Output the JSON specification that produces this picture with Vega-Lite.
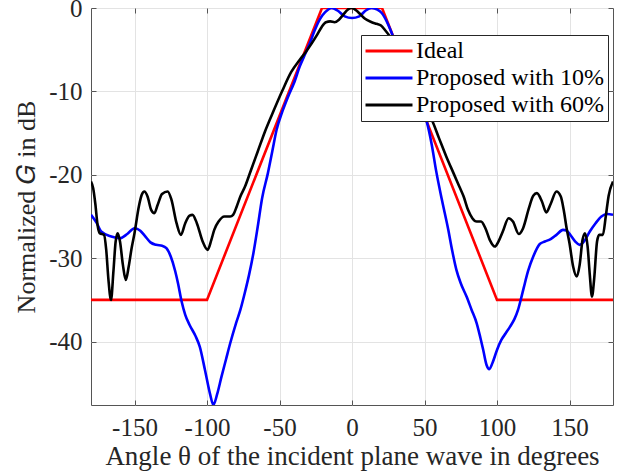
{
  "$schema": "https://vega.github.io/schema/vega-lite/v6.json",
  "autosize": {"type": "none"},
  "padding": {"left": 91, "top": 8, "right": 13, "bottom": 69},
  "width": 522,
  "height": 397,
  "background": "white",
  "config": {
    "font": "Liberation Serif",
    "view": {"stroke": "#555555", "strokeWidth": 1},
    "axis": {"labelFont": "Liberation Serif", "titleFont": "Liberation Serif", "labelColor": "#262626", "titleColor": "#262626", "domainColor": "#555555", "tickColor": "#555555", "gridColor": "#e3e3e3", "gridOpacity": 1, "labelFontSize": 25, "titleFontSize": 26, "titleFontWeight": "normal"},
    "legend": {"labelFont": "Liberation Serif", "labelFontSize": 24, "labelColor": "#000000", "labelLimit": 0}
  },
  "datasets": {
    "curves": [
      {"series": "Ideal", "theta": -180, "G": -35},
      {"series": "Ideal", "theta": -100, "G": -35},
      {"series": "Ideal", "theta": -20.7, "G": 0},
      {"series": "Ideal", "theta": 20.7, "G": 0},
      {"series": "Ideal", "theta": 100, "G": -35},
      {"series": "Ideal", "theta": 180, "G": -35},

      {"series": "Proposed with 10%", "theta": -180, "G": -24.8},
      {"series": "Proposed with 10%", "theta": -176, "G": -25.8},
      {"series": "Proposed with 10%", "theta": -173, "G": -26.8},
      {"series": "Proposed with 10%", "theta": -166, "G": -27.4},
      {"series": "Proposed with 10%", "theta": -160, "G": -27.6},
      {"series": "Proposed with 10%", "theta": -155, "G": -27.1},
      {"series": "Proposed with 10%", "theta": -150, "G": -26.4},
      {"series": "Proposed with 10%", "theta": -146, "G": -26.7},
      {"series": "Proposed with 10%", "theta": -143, "G": -27.3},
      {"series": "Proposed with 10%", "theta": -139, "G": -28.1},
      {"series": "Proposed with 10%", "theta": -135, "G": -28.4},
      {"series": "Proposed with 10%", "theta": -131, "G": -28.5},
      {"series": "Proposed with 10%", "theta": -128, "G": -28.8},
      {"series": "Proposed with 10%", "theta": -125, "G": -29.8},
      {"series": "Proposed with 10%", "theta": -122, "G": -31.5},
      {"series": "Proposed with 10%", "theta": -120, "G": -33.0},
      {"series": "Proposed with 10%", "theta": -117.5, "G": -35.2},
      {"series": "Proposed with 10%", "theta": -115, "G": -36.8},
      {"series": "Proposed with 10%", "theta": -112, "G": -38.0},
      {"series": "Proposed with 10%", "theta": -108, "G": -39.3},
      {"series": "Proposed with 10%", "theta": -105, "G": -40.6},
      {"series": "Proposed with 10%", "theta": -101.4, "G": -43.4},
      {"series": "Proposed with 10%", "theta": -98, "G": -46.2},
      {"series": "Proposed with 10%", "theta": -95.6, "G": -47.6},
      {"series": "Proposed with 10%", "theta": -93, "G": -46.3},
      {"series": "Proposed with 10%", "theta": -90, "G": -44.2},
      {"series": "Proposed with 10%", "theta": -87, "G": -42.2},
      {"series": "Proposed with 10%", "theta": -84, "G": -40.2},
      {"series": "Proposed with 10%", "theta": -80, "G": -37.8},
      {"series": "Proposed with 10%", "theta": -77, "G": -36.2},
      {"series": "Proposed with 10%", "theta": -74, "G": -34.2},
      {"series": "Proposed with 10%", "theta": -71, "G": -32.0},
      {"series": "Proposed with 10%", "theta": -68, "G": -29.4},
      {"series": "Proposed with 10%", "theta": -65, "G": -26.2},
      {"series": "Proposed with 10%", "theta": -62, "G": -22.8},
      {"series": "Proposed with 10%", "theta": -58, "G": -19.8},
      {"series": "Proposed with 10%", "theta": -55, "G": -17.2},
      {"series": "Proposed with 10%", "theta": -52, "G": -14.6},
      {"series": "Proposed with 10%", "theta": -48, "G": -12.4},
      {"series": "Proposed with 10%", "theta": -44, "G": -10.6},
      {"series": "Proposed with 10%", "theta": -40, "G": -9.0},
      {"series": "Proposed with 10%", "theta": -36, "G": -7.0},
      {"series": "Proposed with 10%", "theta": -32, "G": -5.4},
      {"series": "Proposed with 10%", "theta": -29, "G": -4.2},
      {"series": "Proposed with 10%", "theta": -26, "G": -2.8},
      {"series": "Proposed with 10%", "theta": -22, "G": -1.3},
      {"series": "Proposed with 10%", "theta": -18.5, "G": -0.5},
      {"series": "Proposed with 10%", "theta": -14, "G": 0},
      {"series": "Proposed with 10%", "theta": -10, "G": -0.3},
      {"series": "Proposed with 10%", "theta": -5, "G": -1.0},
      {"series": "Proposed with 10%", "theta": 0, "G": -1.2},
      {"series": "Proposed with 10%", "theta": 5, "G": -1.0},
      {"series": "Proposed with 10%", "theta": 9.5, "G": -0.3},
      {"series": "Proposed with 10%", "theta": 13.6, "G": 0},
      {"series": "Proposed with 10%", "theta": 17.5, "G": -0.2},
      {"series": "Proposed with 10%", "theta": 20.5, "G": -0.6},
      {"series": "Proposed with 10%", "theta": 25, "G": -2.0},
      {"series": "Proposed with 10%", "theta": 27.4, "G": -3.0},
      {"series": "Proposed with 10%", "theta": 32, "G": -5.5},
      {"series": "Proposed with 10%", "theta": 36, "G": -7.5},
      {"series": "Proposed with 10%", "theta": 40, "G": -9.2},
      {"series": "Proposed with 10%", "theta": 44, "G": -10.6},
      {"series": "Proposed with 10%", "theta": 48, "G": -12.0},
      {"series": "Proposed with 10%", "theta": 51.5, "G": -13.6},
      {"series": "Proposed with 10%", "theta": 55, "G": -16.4},
      {"series": "Proposed with 10%", "theta": 58, "G": -19.5},
      {"series": "Proposed with 10%", "theta": 62, "G": -23.0},
      {"series": "Proposed with 10%", "theta": 66.4, "G": -26.6},
      {"series": "Proposed with 10%", "theta": 69, "G": -29.0},
      {"series": "Proposed with 10%", "theta": 72, "G": -31.4},
      {"series": "Proposed with 10%", "theta": 75, "G": -33.0},
      {"series": "Proposed with 10%", "theta": 79, "G": -34.6},
      {"series": "Proposed with 10%", "theta": 82.5, "G": -36.2},
      {"series": "Proposed with 10%", "theta": 86, "G": -37.8},
      {"series": "Proposed with 10%", "theta": 88.5, "G": -39.5},
      {"series": "Proposed with 10%", "theta": 90.5, "G": -41.0},
      {"series": "Proposed with 10%", "theta": 92.8, "G": -42.8},
      {"series": "Proposed with 10%", "theta": 94.7, "G": -43.3},
      {"series": "Proposed with 10%", "theta": 97, "G": -42.5},
      {"series": "Proposed with 10%", "theta": 100, "G": -41.0},
      {"series": "Proposed with 10%", "theta": 103, "G": -39.8},
      {"series": "Proposed with 10%", "theta": 106, "G": -39.0},
      {"series": "Proposed with 10%", "theta": 109, "G": -38.2},
      {"series": "Proposed with 10%", "theta": 112, "G": -37.3},
      {"series": "Proposed with 10%", "theta": 114.5, "G": -36.2},
      {"series": "Proposed with 10%", "theta": 116.5, "G": -34.9},
      {"series": "Proposed with 10%", "theta": 118.5, "G": -33.5},
      {"series": "Proposed with 10%", "theta": 121.5, "G": -31.5},
      {"series": "Proposed with 10%", "theta": 125, "G": -29.8},
      {"series": "Proposed with 10%", "theta": 129.5, "G": -28.3},
      {"series": "Proposed with 10%", "theta": 133, "G": -28.0},
      {"series": "Proposed with 10%", "theta": 137, "G": -27.7},
      {"series": "Proposed with 10%", "theta": 141, "G": -27.2},
      {"series": "Proposed with 10%", "theta": 145.5, "G": -26.6},
      {"series": "Proposed with 10%", "theta": 148, "G": -26.7},
      {"series": "Proposed with 10%", "theta": 151, "G": -27.3},
      {"series": "Proposed with 10%", "theta": 154, "G": -28.0},
      {"series": "Proposed with 10%", "theta": 157, "G": -28.4},
      {"series": "Proposed with 10%", "theta": 160, "G": -28.0},
      {"series": "Proposed with 10%", "theta": 164, "G": -26.8},
      {"series": "Proposed with 10%", "theta": 168, "G": -25.8},
      {"series": "Proposed with 10%", "theta": 172, "G": -25.0},
      {"series": "Proposed with 10%", "theta": 176, "G": -24.7},
      {"series": "Proposed with 10%", "theta": 180, "G": -24.8},

      {"series": "Proposed with 60%", "theta": -180, "G": -20.8},
      {"series": "Proposed with 60%", "theta": -178.5, "G": -21.6},
      {"series": "Proposed with 60%", "theta": -177, "G": -23.5},
      {"series": "Proposed with 60%", "theta": -175.5, "G": -26.0},
      {"series": "Proposed with 60%", "theta": -174, "G": -27.0},
      {"series": "Proposed with 60%", "theta": -171, "G": -27.2},
      {"series": "Proposed with 60%", "theta": -169.5, "G": -29.0},
      {"series": "Proposed with 60%", "theta": -168, "G": -32.5},
      {"series": "Proposed with 60%", "theta": -166.2, "G": -35.0},
      {"series": "Proposed with 60%", "theta": -164.5, "G": -31.5},
      {"series": "Proposed with 60%", "theta": -163, "G": -28.0},
      {"series": "Proposed with 60%", "theta": -161.6, "G": -27.0},
      {"series": "Proposed with 60%", "theta": -160, "G": -28.0},
      {"series": "Proposed with 60%", "theta": -158, "G": -30.8},
      {"series": "Proposed with 60%", "theta": -156, "G": -32.6},
      {"series": "Proposed with 60%", "theta": -154, "G": -31.0},
      {"series": "Proposed with 60%", "theta": -152, "G": -28.8},
      {"series": "Proposed with 60%", "theta": -150, "G": -27.0},
      {"series": "Proposed with 60%", "theta": -147, "G": -23.8},
      {"series": "Proposed with 60%", "theta": -145, "G": -22.4},
      {"series": "Proposed with 60%", "theta": -143.2, "G": -22.0},
      {"series": "Proposed with 60%", "theta": -141, "G": -22.6},
      {"series": "Proposed with 60%", "theta": -138.5, "G": -24.2},
      {"series": "Proposed with 60%", "theta": -136.3, "G": -24.6},
      {"series": "Proposed with 60%", "theta": -134, "G": -23.6},
      {"series": "Proposed with 60%", "theta": -131, "G": -22.3},
      {"series": "Proposed with 60%", "theta": -127.1, "G": -22.0},
      {"series": "Proposed with 60%", "theta": -124.5, "G": -23.0},
      {"series": "Proposed with 60%", "theta": -121, "G": -25.8},
      {"series": "Proposed with 60%", "theta": -118, "G": -27.2},
      {"series": "Proposed with 60%", "theta": -115, "G": -25.8},
      {"series": "Proposed with 60%", "theta": -112, "G": -24.9},
      {"series": "Proposed with 60%", "theta": -110, "G": -24.8},
      {"series": "Proposed with 60%", "theta": -107, "G": -25.8},
      {"series": "Proposed with 60%", "theta": -103, "G": -28.0},
      {"series": "Proposed with 60%", "theta": -99.6, "G": -29.0},
      {"series": "Proposed with 60%", "theta": -97, "G": -27.8},
      {"series": "Proposed with 60%", "theta": -95, "G": -26.6},
      {"series": "Proposed with 60%", "theta": -92, "G": -25.6},
      {"series": "Proposed with 60%", "theta": -88, "G": -25.0},
      {"series": "Proposed with 60%", "theta": -84, "G": -25.0},
      {"series": "Proposed with 60%", "theta": -82, "G": -24.8},
      {"series": "Proposed with 60%", "theta": -79.5, "G": -23.8},
      {"series": "Proposed with 60%", "theta": -77, "G": -22.6},
      {"series": "Proposed with 60%", "theta": -74, "G": -21.5},
      {"series": "Proposed with 60%", "theta": -70, "G": -19.6},
      {"series": "Proposed with 60%", "theta": -65, "G": -17.2},
      {"series": "Proposed with 60%", "theta": -60, "G": -14.8},
      {"series": "Proposed with 60%", "theta": -54, "G": -12.3},
      {"series": "Proposed with 60%", "theta": -48, "G": -9.9},
      {"series": "Proposed with 60%", "theta": -42, "G": -7.7},
      {"series": "Proposed with 60%", "theta": -36, "G": -6.2},
      {"series": "Proposed with 60%", "theta": -32, "G": -5.3},
      {"series": "Proposed with 60%", "theta": -28, "G": -4.3},
      {"series": "Proposed with 60%", "theta": -24, "G": -3.2},
      {"series": "Proposed with 60%", "theta": -21, "G": -2.3},
      {"series": "Proposed with 60%", "theta": -18, "G": -1.7},
      {"series": "Proposed with 60%", "theta": -15, "G": -1.6},
      {"series": "Proposed with 60%", "theta": -12, "G": -1.7},
      {"series": "Proposed with 60%", "theta": -9, "G": -1.4},
      {"series": "Proposed with 60%", "theta": -6, "G": -0.8},
      {"series": "Proposed with 60%", "theta": -3, "G": -0.2},
      {"series": "Proposed with 60%", "theta": 0, "G": 0},
      {"series": "Proposed with 60%", "theta": 3, "G": -0.3},
      {"series": "Proposed with 60%", "theta": 6, "G": -0.8},
      {"series": "Proposed with 60%", "theta": 9, "G": -1.3},
      {"series": "Proposed with 60%", "theta": 13.6, "G": -1.7},
      {"series": "Proposed with 60%", "theta": 17, "G": -1.9},
      {"series": "Proposed with 60%", "theta": 20, "G": -2.1},
      {"series": "Proposed with 60%", "theta": 23, "G": -2.7},
      {"series": "Proposed with 60%", "theta": 26, "G": -3.4},
      {"series": "Proposed with 60%", "theta": 30, "G": -5.0},
      {"series": "Proposed with 60%", "theta": 35, "G": -7.0},
      {"series": "Proposed with 60%", "theta": 40, "G": -8.8},
      {"series": "Proposed with 60%", "theta": 45, "G": -10.4},
      {"series": "Proposed with 60%", "theta": 50, "G": -12.0},
      {"series": "Proposed with 60%", "theta": 55, "G": -13.4},
      {"series": "Proposed with 60%", "theta": 60, "G": -15.6},
      {"series": "Proposed with 60%", "theta": 65, "G": -17.8},
      {"series": "Proposed with 60%", "theta": 70, "G": -19.8},
      {"series": "Proposed with 60%", "theta": 74, "G": -21.4},
      {"series": "Proposed with 60%", "theta": 77, "G": -22.6},
      {"series": "Proposed with 60%", "theta": 80, "G": -24.2},
      {"series": "Proposed with 60%", "theta": 83, "G": -25.2},
      {"series": "Proposed with 60%", "theta": 86, "G": -25.6},
      {"series": "Proposed with 60%", "theta": 89, "G": -25.6},
      {"series": "Proposed with 60%", "theta": 92, "G": -26.4},
      {"series": "Proposed with 60%", "theta": 95, "G": -27.8},
      {"series": "Proposed with 60%", "theta": 98.5, "G": -28.6},
      {"series": "Proposed with 60%", "theta": 101, "G": -28.0},
      {"series": "Proposed with 60%", "theta": 104, "G": -26.8},
      {"series": "Proposed with 60%", "theta": 108, "G": -25.2},
      {"series": "Proposed with 60%", "theta": 111, "G": -25.6},
      {"series": "Proposed with 60%", "theta": 115, "G": -27.1},
      {"series": "Proposed with 60%", "theta": 118, "G": -26.4},
      {"series": "Proposed with 60%", "theta": 122, "G": -24.0},
      {"series": "Proposed with 60%", "theta": 125, "G": -22.5},
      {"series": "Proposed with 60%", "theta": 127.5, "G": -22.2},
      {"series": "Proposed with 60%", "theta": 131, "G": -23.2},
      {"series": "Proposed with 60%", "theta": 134, "G": -24.5},
      {"series": "Proposed with 60%", "theta": 137, "G": -23.5},
      {"series": "Proposed with 60%", "theta": 141, "G": -22.0},
      {"series": "Proposed with 60%", "theta": 144, "G": -22.6},
      {"series": "Proposed with 60%", "theta": 146, "G": -24.2},
      {"series": "Proposed with 60%", "theta": 148, "G": -26.4},
      {"series": "Proposed with 60%", "theta": 150, "G": -28.2},
      {"series": "Proposed with 60%", "theta": 152.5, "G": -31.0},
      {"series": "Proposed with 60%", "theta": 155, "G": -32.2},
      {"series": "Proposed with 60%", "theta": 157, "G": -30.8},
      {"series": "Proposed with 60%", "theta": 159, "G": -27.8},
      {"series": "Proposed with 60%", "theta": 160.7, "G": -27.0},
      {"series": "Proposed with 60%", "theta": 162.5, "G": -28.6},
      {"series": "Proposed with 60%", "theta": 164, "G": -32.0},
      {"series": "Proposed with 60%", "theta": 165.5, "G": -34.6},
      {"series": "Proposed with 60%", "theta": 167, "G": -32.5},
      {"series": "Proposed with 60%", "theta": 169, "G": -28.0},
      {"series": "Proposed with 60%", "theta": 170.5, "G": -27.2},
      {"series": "Proposed with 60%", "theta": 173, "G": -27.2},
      {"series": "Proposed with 60%", "theta": 175, "G": -25.0},
      {"series": "Proposed with 60%", "theta": 177, "G": -22.5},
      {"series": "Proposed with 60%", "theta": 180, "G": -20.8}
    ]
  },
  "data": {"name": "curves"},
  "layer": [
    {
      "transform": [{"filter": "datum.series === 'Ideal'"}],
      "mark": {"type": "line", "strokeWidth": 2.6, "interpolate": "linear", "clip": true},
      "encoding": {
        "x": {
          "field": "theta", "type": "quantitative",
          "scale": {"domain": [-180, 180], "nice": false, "zero": false},
          "axis": {"orient": "bottom", "values": [-150, -100, -50, 0, 50, 100, 150], "labelExpr": "datum.value + ''", "tickSize": -5, "labelPadding": 15, "grid": true, "domain": false, "title": "Angle θ of the incident plane wave in degrees", "titleFontSize": 27, "titlePadding": 3}
        },
        "y": {
          "field": "G", "type": "quantitative",
          "scale": {"domain": [-47.6, 0], "nice": false, "zero": false},
          "axis": {"orient": "left", "values": [-40, -30, -20, -10, 0], "labelExpr": "datum.value + ''", "tickSize": -5, "labelPadding": 14, "grid": true, "domain": false, "title": "Normalized 𝐺 in dB", "titlePadding": 9}
        },
        "color": {
          "field": "series", "type": "nominal",
          "scale": {"domain": ["Ideal", "Proposed with 10%", "Proposed with 60%"], "range": ["#ff0000", "#0000ff", "#000000"]},
          "legend": {"title": null, "orient": "none", "legendX": 270, "legendY": 27, "symbolType": "M-2.5,0H2.5", "symbolSize": 353, "symbolStrokeWidth": 3, "fillColor": "white", "strokeColor": "#262626", "padding": 4, "symbolOffset": 12, "rowPadding": 3, "labelOffset": 15, "offset": 0}
        }
      }
    },
    {
      "transform": [{"filter": "datum.series !== 'Ideal'"}],
      "mark": {"type": "line", "strokeWidth": 2.6, "interpolate": "monotone", "clip": true},
      "encoding": {
        "x": {"field": "theta", "type": "quantitative", "axis": null},
        "y": {"field": "G", "type": "quantitative", "axis": null},
        "color": {"field": "series", "type": "nominal"}
      }
    },
    {
      "mark": {"type": "point", "opacity": 0},
      "encoding": {
        "x": {"field": "theta", "type": "quantitative", "axis": {"orient": "top", "values": [-150, -100, -50, 0, 50, 100, 150], "labels": false, "tickSize": -5, "grid": false, "domain": false, "title": null}},
        "y": {"field": "G", "type": "quantitative", "axis": {"orient": "right", "values": [-40, -30, -20, -10, 0], "labels": false, "tickSize": -5, "grid": false, "domain": false, "title": null}}
      }
    }
  ],
  "resolve": {"axis": {"x": "independent", "y": "independent"}}
}
